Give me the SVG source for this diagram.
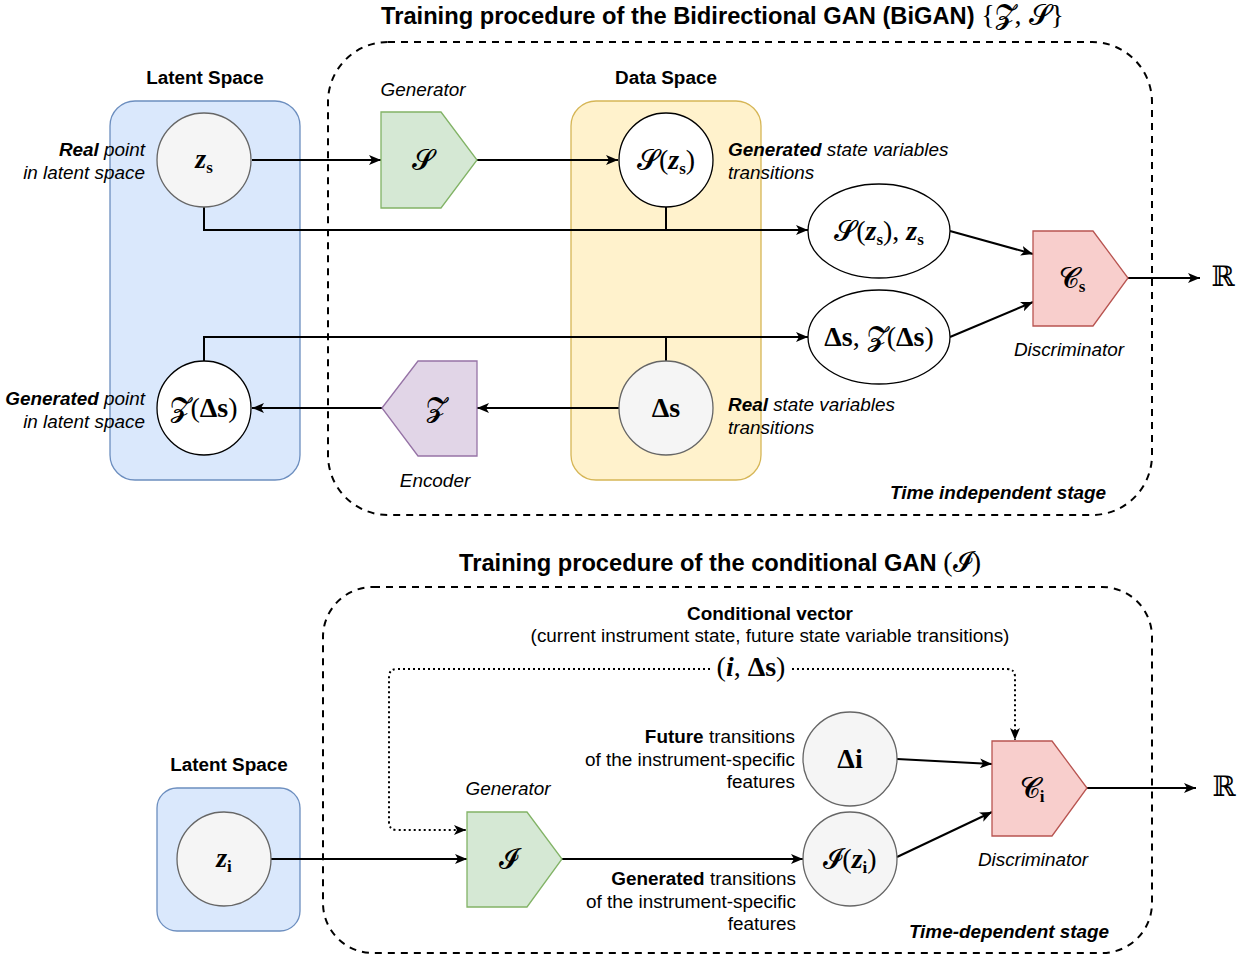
<svg xmlns="http://www.w3.org/2000/svg" width="1243" height="958" viewBox="0 0 1243 958">
<defs>
<marker id="arr" viewBox="0 0 12 10" refX="12" refY="5" markerWidth="12" markerHeight="10" markerUnits="userSpaceOnUse" orient="auto">
<path d="M0,0 L12,5 L0,10 L3,5 Z" fill="#000"/>
</marker>
<style>
.lbl{font-family:"Liberation Sans",Arial,sans-serif;font-size:18.9px;fill:#000}
.it{font-style:italic}
.b{font-weight:bold}
.ttl{font-family:"Liberation Sans",Arial,sans-serif;font-size:23.7px;font-weight:bold;fill:#000}
.m{font-family:"Liberation Serif","DejaVu Serif",serif;font-size:28px;fill:#000}
.mz{font-weight:bold;font-style:italic}
.bd{font-weight:bold}
.sub{font-size:17px;font-weight:bold}
.cal{font-family:"DejaVu Serif","DejaVu Sans",serif}
.frame{fill:none;stroke:#000;stroke-width:2;stroke-dasharray:7 6}
.blue{fill:#dae8fc;stroke:#6c8ebf;stroke-width:1.3}
.yellow{fill:#fff2cc;stroke:#d6b656;stroke-width:1.3}
.grey{fill:#f5f5f5;stroke:#666;stroke-width:1.3}
.white{fill:#fff;stroke:#000;stroke-width:1.3}
.green{fill:#d5e8d4;stroke:#82b366;stroke-width:1.3}
.purple{fill:#e1d5e7;stroke:#9673a6;stroke-width:1.3}
.red{fill:#f8cecc;stroke:#b85450;stroke-width:1.3}
.c{fill:none;stroke:#000;stroke-width:2}
.dot{fill:none;stroke:#000;stroke-width:2;stroke-dasharray:2 3}
</style>
</defs>
<rect width="1243" height="958" fill="#fff"/>

<!-- titles and frames -->
<g id="title-top">
<text class="ttl" x="381" y="24">Training procedure of the Bidirectional GAN (BiGAN) <tspan class="m" font-size="24" font-weight="normal">{<tspan class="cal">𝓩</tspan>, <tspan class="cal">𝓢</tspan>}</tspan></text>
</g>
<g id="frame-top"><rect class="frame" x="328" y="42" width="824" height="473" rx="60"/>
<text class="lbl it b" x="1106" y="499" text-anchor="end">Time independent stage</text></g>

<g id="title-bottom">
<text class="ttl" x="459" y="571">Training procedure of the conditional GAN <tspan class="m" font-size="27" font-weight="normal">(<tspan class="cal">𝓘</tspan>)</tspan></text>
</g>
<g id="frame-bottom"><rect class="frame" x="323" y="587" width="829" height="366" rx="50"/>
<text class="lbl it b" x="1009" y="938" text-anchor="middle">Time-dependent stage</text></g>

<!-- containers -->
<g id="latent-space-top">
<rect class="blue" x="110" y="101" width="190" height="379" rx="25"/>
<text class="lbl b" x="205" y="84" text-anchor="middle">Latent Space</text>
</g>
<g id="data-space">
<rect class="yellow" x="571" y="101" width="190" height="379" rx="25"/>
<text class="lbl b" x="666" y="84" text-anchor="middle">Data Space</text>
</g>
<g id="latent-space-bottom">
<rect class="blue" x="157" y="788" width="143" height="143" rx="20"/>
<text class="lbl b" x="229" y="771" text-anchor="middle">Latent Space</text>
</g>

<!-- connectors -->
<g id="connectors">
<path class="c" d="M252,160 L381,160" marker-end="url(#arr)"/>
<path class="c" d="M477,160 L618,160" marker-end="url(#arr)"/>
<path class="c" d="M204,207 L204,230 L808,230" marker-end="url(#arr)"/>
<path class="c" d="M666,207 L666,230"/>
<path class="c" d="M950,231 L1033,254" marker-end="url(#arr)"/>
<path class="c" d="M950,337 L1033,302" marker-end="url(#arr)"/>
<path class="c" d="M1128,278 L1200,278" marker-end="url(#arr)"/>
<path class="c" d="M204,361 L204,337 L808,337" marker-end="url(#arr)"/>
<path class="c" d="M666,361 L666,337"/>
<path class="c" d="M619,408 L477,408" marker-end="url(#arr)"/>
<path class="c" d="M382,408 L252,408" marker-end="url(#arr)"/>
<path class="c" d="M271,859 L467,859" marker-end="url(#arr)"/>
<path class="c" d="M562,859 L803,859" marker-end="url(#arr)"/>
<path class="c" d="M897,759 L992,764" marker-end="url(#arr)"/>
<path class="c" d="M897,857 L992,812" marker-end="url(#arr)"/>
<path class="c" d="M1087,788 L1196,788" marker-end="url(#arr)"/>
<path class="dot" d="M710,669 L397,669 Q389,669 389,677 L389,822 Q389,830 397,830 L466,830" marker-end="url(#arr)"/>
<path class="dot" d="M792,669 L1007,669 Q1015,669 1015,677 L1015,740" marker-end="url(#arr)"/>
</g>

<!-- top nodes -->
<g id="node-zs">
<circle class="grey" cx="204" cy="160" r="47"/>
<text class="m" x="204" y="168" text-anchor="middle"><tspan class="mz">z</tspan><tspan class="sub" dy="5">s</tspan></text>
<text class="lbl it" x="145" y="156" text-anchor="end"><tspan class="b">Real</tspan> point</text>
<text class="lbl it" x="145" y="179" text-anchor="end">in latent space</text>
</g>
<g id="node-generator-S">
<polygon class="green" points="381,112 441,112 477,160 441,208 381,208"/>
<text class="m" x="423" y="169" text-anchor="middle"><tspan class="cal">𝓢</tspan></text>
<text class="lbl it" x="423" y="96" text-anchor="middle">Generator</text>
</g>
<g id="node-S-zs">
<circle class="white" cx="666" cy="160" r="47"/>
<text class="m" x="666" y="169" text-anchor="middle"><tspan class="cal">𝓢</tspan>(<tspan class="mz">z</tspan><tspan class="sub" dy="5">s</tspan><tspan dy="-5">)</tspan></text>
<text class="lbl it" x="728" y="156"><tspan class="b">Generated</tspan> state variables</text>
<text class="lbl it" x="728" y="179">transitions</text>
</g>
<g id="node-pair-fake">
<ellipse class="white" cx="879" cy="231" rx="71" ry="47"/>
<text class="m" x="879" y="240" text-anchor="middle"><tspan class="cal">𝓢</tspan>(<tspan class="mz">z</tspan><tspan class="sub" dy="5">s</tspan><tspan dy="-5">), </tspan><tspan class="mz">z</tspan><tspan class="sub" dy="5">s</tspan></text>
</g>
<g id="node-pair-real">
<ellipse class="white" cx="879" cy="337" rx="71" ry="47"/>
<text class="m" x="879" y="346" text-anchor="middle"><tspan class="bd">Δs</tspan>, <tspan class="cal">𝓩</tspan>(<tspan class="bd">Δs</tspan>)</text>
</g>
<g id="node-Cs">
<polygon class="red" points="1033,231 1093,231 1128,278 1093,326 1033,326"/>
<text class="m" x="1072" y="287" text-anchor="middle"><tspan class="cal">𝓒</tspan><tspan class="sub" dy="5">s</tspan></text>
<text class="lbl it" x="1069" y="356" text-anchor="middle">Discriminator</text>
</g>
<g id="node-R-top">
<text class="m" x="1223" y="286" text-anchor="middle" font-size="22">ℝ</text>
</g>
<g id="node-Z-ds">
<circle class="white" cx="204" cy="408" r="47"/>
<text class="m" x="204" y="417" text-anchor="middle"><tspan class="cal">𝓩</tspan>(<tspan class="bd">Δs</tspan>)</text>
<text class="lbl it" x="145" y="405" text-anchor="end"><tspan class="b">Generated</tspan> point</text>
<text class="lbl it" x="145" y="428" text-anchor="end">in latent space</text>
</g>
<g id="node-encoder-Z">
<polygon class="purple" points="382,408 418,361 477,361 477,456 418,456"/>
<text class="m" x="436" y="417" text-anchor="middle"><tspan class="cal">𝓩</tspan></text>
<text class="lbl it" x="435" y="487" text-anchor="middle">Encoder</text>
</g>
<g id="node-ds">
<circle class="grey" cx="666" cy="408" r="47"/>
<text class="m" x="666" y="417" text-anchor="middle"><tspan class="bd">Δs</tspan></text>
<text class="lbl it" x="728" y="411"><tspan class="b">Real</tspan> state variables</text>
<text class="lbl it" x="728" y="434">transitions</text>
</g>

<!-- bottom nodes -->
<g id="node-cond-vector">
<text class="lbl b" x="770" y="620" text-anchor="middle">Conditional vector</text>
<text class="lbl" x="770" y="642" text-anchor="middle">(current instrument state, future state variable transitions)</text>
<text class="m" x="751" y="676" text-anchor="middle" font-size="24">(<tspan class="mz">i</tspan>, <tspan class="bd">Δs</tspan>)</text>
</g>
<g id="node-zi">
<circle class="grey" cx="224" cy="859" r="47"/>
<text class="m" x="224" y="867" text-anchor="middle"><tspan class="mz">z</tspan><tspan class="sub" dy="5">i</tspan></text>
</g>
<g id="node-generator-I">
<polygon class="green" points="467,812 527,812 562,859 527,907 467,907"/>
<text class="m" x="508" y="868" text-anchor="middle"><tspan class="cal">𝓘</tspan></text>
<text class="lbl it" x="508" y="795" text-anchor="middle">Generator</text>
</g>
<g id="node-di">
<circle class="grey" cx="850" cy="759" r="47"/>
<text class="m" x="850" y="768" text-anchor="middle"><tspan class="bd">Δi</tspan></text>
<text class="lbl" x="795" y="743" text-anchor="end"><tspan class="b">Future</tspan> transitions</text>
<text class="lbl" x="795" y="766" text-anchor="end">of the instrument-specific</text>
<text class="lbl" x="795" y="788" text-anchor="end">features</text>
</g>
<g id="node-I-zi">
<circle class="grey" cx="850" cy="859" r="47"/>
<text class="m" x="850" y="868" text-anchor="middle"><tspan class="cal">𝓘</tspan>(<tspan class="mz">z</tspan><tspan class="sub" dy="5">i</tspan><tspan dy="-5">)</tspan></text>
<text class="lbl" x="796" y="885" text-anchor="end"><tspan class="b">Generated</tspan> transitions</text>
<text class="lbl" x="796" y="908" text-anchor="end">of the instrument-specific</text>
<text class="lbl" x="796" y="930" text-anchor="end">features</text>
</g>
<g id="node-Ci">
<polygon class="red" points="992,741 1052,741 1087,788 1052,836 992,836"/>
<text class="m" x="1032" y="797" text-anchor="middle"><tspan class="cal">𝓒</tspan><tspan class="sub" dy="5">i</tspan></text>
<text class="lbl it" x="1033" y="866" text-anchor="middle">Discriminator</text>
</g>
<g id="node-R-bottom">
<text class="m" x="1224" y="796" text-anchor="middle" font-size="22">ℝ</text>
</g>
</svg>
